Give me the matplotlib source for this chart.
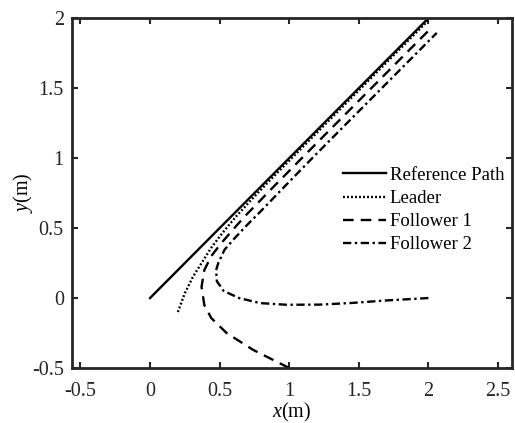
import matplotlib
matplotlib.use("Agg")
import matplotlib.pyplot as plt

FONT = "Liberation Serif"
plt.rcParams['font.family'] = [FONT, 'DejaVu Serif']
plt.rcParams['mathtext.fontset'] = 'custom'
plt.rcParams['mathtext.rm'] = FONT
plt.rcParams['mathtext.it'] = FONT + ':italic'

ref_x = [0.0, 2.0]
ref_y = [0.0, 2.0]

leader_x = [0.20, 0.25, 0.31, 0.37, 0.44, 0.52, 0.62, 0.73, 0.85, 1.00, 1.50, 2.00]
leader_y = [-0.10, 0.035, 0.155, 0.25, 0.36, 0.465, 0.585, 0.705, 0.83, 0.982, 1.484, 1.985]

f1_x = [1.00, 0.74, 0.55, 0.44, 0.39, 0.37, 0.39, 0.44, 0.51, 0.595, 0.68, 0.78, 0.90, 1.20, 1.60, 2.03]
f1_y = [-0.50, -0.37, -0.25, -0.143, -0.05, 0.08, 0.20, 0.30, 0.39, 0.488, 0.583, 0.685, 0.808, 1.11, 1.51, 1.94]

f2_x = [2.00, 1.70, 1.45, 1.22, 0.98, 0.79, 0.64, 0.53, 0.48, 0.475, 0.49, 0.535, 0.61, 0.70, 0.80, 0.95, 1.20, 1.60, 2.06]
f2_y = [0.00, -0.017, -0.035, -0.047, -0.048, -0.036, 0.00, 0.05, 0.12, 0.20, 0.25, 0.345, 0.43, 0.525, 0.625, 0.78, 1.035, 1.435, 1.895]

labels = ["Reference Path", "Leader", "Follower 1", "Follower 2"]
xticks = [-0.5, 0, 0.5, 1, 1.5, 2, 2.5]
xtick_labels = ["-0.5", "0", "0.5", "1", "1.5", "2", "2.5"]
yticks = [-0.5, 0, 0.5, 1, 1.5, 2]
ytick_labels = ["-0.5", "0", "0.5", "1", "1.5", "2"]

fig = plt.figure(figsize=(5.15, 4.23), dpi=100)
ax = fig.add_axes([0.140, 0.130, 0.854, 0.827])

lw = 1.7
ax.plot(ref_x, ref_y, color='black', lw=lw, linestyle='-', label=labels[0])
ax.plot(leader_x, leader_y, color='black', lw=lw, linestyle=(0, (0.8, 0.9)), label=labels[1])
ax.plot(f1_x, f1_y, color='black', lw=lw, linestyle=(0, (4.5, 3.0)), label=labels[2])
ax.plot(f2_x, f2_y, color='black', lw=lw, linestyle=(0, (3.5, 1.5, 1.0, 1.5)), label=labels[3])

ax.set_xlim(-0.56, 2.6)
ax.set_ylim(-0.5, 2.0)
ax.set_xticks(xticks)
ax.set_xticklabels(xtick_labels)
ax.set_yticks(yticks)
ax.set_yticklabels(ytick_labels)
ax.tick_params(direction='in', length=4, width=1.5, top=True, right=True,
               labelsize=14.5, colors='#262626')
ax.tick_params(axis='x', pad=10)
ax.tick_params(axis='y', pad=6)
for s in ax.spines.values():
    s.set_linewidth(2.0)
    s.set_color('#262626')

ax.set_xlabel(r'$x$(m)', fontsize=14.5, labelpad=0)
ax.set_ylabel(r'$y$(m)', fontsize=14.5, labelpad=-2)

leg = ax.legend(loc='upper left', bbox_to_anchor=(0.616, 0.575), frameon=False,
                fontsize=13.5, handlelength=2.3, handletextpad=0.2, labelspacing=0.32,
                borderaxespad=0, borderpad=0)

fig.savefig("out.png", dpi=100)
